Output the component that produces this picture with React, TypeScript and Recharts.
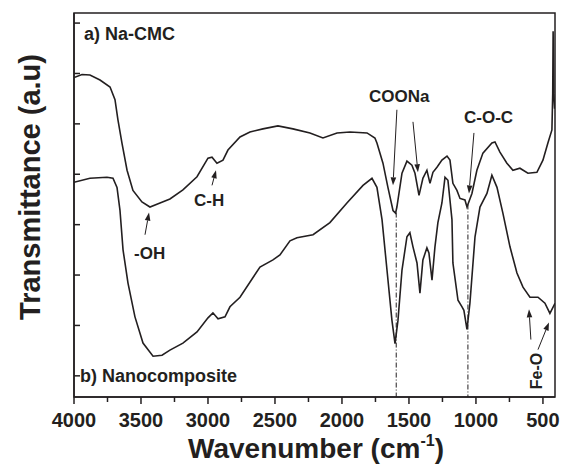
import React from 'react';
import { LineChart, Line, XAxis, YAxis, ReferenceLine, ReferenceArea } from 'recharts';

const INK = '#231f20';
const FONT = '"Liberation Sans", Arial, sans-serif';

// a) Na-CMC spectrum, wavenumber (cm-1) and transmittance (a.u)
const cmcWn = [
  4000, 3940, 3881, 3806, 3731, 3694, 3672, 3642, 3604, 3560, 3493, 3433, 3358, 3284, 3187, 3082,
  3000, 2970, 2933, 2888, 2851, 2761, 2687, 2590, 2478, 2366, 2239, 2142, 2037, 1940, 1813, 1754,
  1739, 1694, 1657, 1619, 1600, 1590, 1552, 1515, 1478, 1455, 1425, 1396, 1366, 1343, 1321, 1291,
  1254, 1216, 1194, 1172, 1142, 1119, 1082, 1067, 1030, 993, 948, 881, 858, 821, 769, 724, 672,
  612, 545, 500, 463, 433, 427, 424, 419, 413,
];
const cmcT = [
  31.6, 31.9, 31.85, 31.35, 30.65, 29.4, 27.4, 25.1, 22.4, 20.4, 19.25, 18.75, 19.15, 19.55, 20.45, 21.75,
  23.6, 23.7, 23.1, 23.4, 24.4, 25.7, 26.2, 26.5, 26.8, 26.5, 26.1, 25.6, 26.1, 26.2, 26.1, 25.6,
  25.1, 23.1, 20.7, 18.4, 18.15, 18.75, 22.1, 23.3, 22.9, 22.1, 19.9, 21.6, 22.4, 21.1, 22.2, 22.7,
  23.4, 23.8, 23.4, 21.1, 20.4, 19.6, 19.45, 18.75, 20.1, 22.4, 24.1, 25.1, 25.2, 24.2, 23.1, 22.4, 22.6,
  22.1, 22.2, 23.4, 25.1, 26.4, 30, 36.2, 30, 28.5,
];

// b) Nanocomposite spectrum
const nanoWn = [
  4000, 3881, 3754, 3709, 3679, 3657, 3634, 3597, 3545, 3485, 3410, 3343, 3284, 3187, 3082, 3000,
  2963, 2925, 2873, 2836, 2761, 2612, 2515, 2463, 2388, 2336, 2216, 2090, 1963, 1843, 1776, 1739,
  1701, 1664, 1627, 1604, 1582, 1552, 1515, 1493, 1470, 1440, 1418, 1396, 1366, 1351, 1328, 1306,
  1284, 1254, 1231, 1209, 1179, 1172, 1134, 1104, 1090, 1067, 1045, 1007, 970, 918, 881, 843, 799,
  746, 694, 649, 597, 537, 485, 448, 410,
];
const nanoT = [
  21.2, 21.6, 21.7, 21.6, 20.7, 18.45, 14.5, 11.2, 7.85, 5.25, 3.95, 4.05, 4.55, 5.25, 6.35, 7.75,
  8.25, 7.65, 7.85, 8.85, 9.8, 12.8, 13.5, 14.0, 15.4, 15.7, 16.0, 17.2, 19.15, 20.9, 21.6, 20.7,
  17.5, 12.5, 7.5, 5.2, 7.5, 12.5, 15.8, 16.2, 14.8, 13.2, 10.2, 13.5, 14.7, 14.2, 11.5, 14.8,
  17.2, 19.15, 21.7, 21.4, 17.5, 13.2, 9.5, 8.85, 8.5, 6.6, 9.2, 15.8, 18.75, 20.1, 21.9, 20.7, 18.15,
  14.8, 12.2, 10.8, 9.8, 9.8, 9.2, 8.2, 9.2,
];

const xTicks = [4000, 3750, 3500, 3250, 3000, 2750, 2500, 2250, 2000, 1750, 1500, 1250, 1000, 750, 500];
const yTicks = [2, 7, 12, 17, 22, 27, 32, 37];

// dash-dot guides: wavenumber, top of the guide
const guideWn = [1595, 1060];
const guideTop = [18.2, 19.0];

// annotation arrows: [from, tip] in wavenumber / transmittance
const arrows = [
  [[3470, 16.0], [3440, 18.2]],
  [[2970, 20.9], [2940, 22.4]],
  [[1590, 28.4], [1619, 20.9]],
  [[1470, 27.2], [1433, 22.2]],
  [[1015, 26.1], [1052, 20.1]],
  [[590, 5.6], [604, 8.6]],
  [[537, 4.6], [455, 7.3]],
];

const cmcData = cmcWn.map((wn, i) => ({ wn, t: cmcT[i] }));
const nanoData = nanoWn.map((wn, i) => ({ wn, t: nanoT[i] }));

const XTick = (props: any) => {
  const { x, y, payload } = props;
  const major = payload.value % 500 === 0;
  return (
    <g>
      <line x1={x} x2={x} y1={y} y2={y + (major ? 7 : 5)} stroke={INK} strokeWidth={1.5} />
      {major && (
        <text x={x} y={y + 30} textAnchor="middle" fill={INK} fontFamily={FONT} fontWeight="bold" fontSize={20}>
          {payload.value}
        </text>
      )}
    </g>
  );
};

const YTick = (props: any) => {
  const { x, y } = props;
  return <line x1={x} x2={x + 6} y1={y} y2={y} stroke={INK} strokeWidth={1.5} />;
};

const Arrow = (p: any) => {
  const { x1, y1, x2, y2 } = p;
  const ang = Math.atan2(y2 - y1, x2 - x1);
  const L = 8;
  const W = 2.8;
  const bx = x2 - L * Math.cos(ang);
  const by = y2 - L * Math.sin(ang);
  const pts = `${x2},${y2} ${bx + W * Math.sin(ang)},${by - W * Math.cos(ang)} ${bx - W * Math.sin(ang)},${by + W * Math.cos(ang)}`;
  return (
    <g>
      <line x1={x1} y1={y1} x2={bx} y2={by} stroke={INK} strokeWidth={1} />
      <polygon points={pts} fill={INK} />
    </g>
  );
};

const textStyle = { fontFamily: FONT, fontWeight: 'bold' as const, fill: INK };

export default function App() {
  return (
    <div style={{ position: 'absolute', left: 0, top: 0, width: 561, height: 470, background: '#fff' }}>
      <LineChart width={561} height={470} margin={{ top: 13, right: 6, bottom: 0, left: 0 }}>
        <XAxis
          type="number"
          dataKey="wn"
          domain={[410, 4000]}
          reversed
          allowDataOverflow
          ticks={xTicks}
          interval={0}
          tickLine={false}
          tickSize={0}
          tickMargin={0}
          tick={<XTick />}
          height={73}
          axisLine={{ stroke: INK, strokeWidth: 1.5 }}
        />
        <YAxis
          type="number"
          domain={[-0.1, 38]}
          allowDataOverflow
          ticks={yTicks}
          interval={0}
          tickLine={false}
          tickSize={0}
          tickMargin={0}
          tick={<YTick />}
          width={74}
          axisLine={{ stroke: INK, strokeWidth: 1.5 }}
        />
        <ReferenceArea x1={4000} x2={410} y1={-0.1} y2={38} fill="none" stroke={INK} strokeWidth={1.5} />
        {guideWn.map((wn, i) => (
          <ReferenceLine
            key={wn}
            segment={[{ x: wn, y: guideTop[i] }, { x: wn, y: -0.1 }]}
            stroke={INK}
            strokeWidth={1}
            strokeDasharray="5 2 1 2"
          />
        ))}
        <Line data={cmcData} dataKey="t" type="linear" stroke={INK} strokeWidth={1.6} dot={false} isAnimationActive={false} />
        <Line data={nanoData} dataKey="t" type="linear" stroke={INK} strokeWidth={1.6} dot={false} isAnimationActive={false} />
        {arrows.map((a, i) => (
          <ReferenceLine
            key={i}
            segment={[{ x: a[0][0], y: a[0][1] }, { x: a[1][0], y: a[1][1] }]}
            shape={<Arrow />}
          />
        ))}
      </LineChart>
      <svg width={561} height={470} style={{ position: 'absolute', left: 0, top: 0, pointerEvents: 'none' }}>
        <text x={84} y={40} fontSize={18} {...textStyle}>a) Na-CMC</text>
        <text x={80} y={382} fontSize={18} {...textStyle}>b) Nanocomposite</text>
        <text x={194} y={206} fontSize={17} {...textStyle}>C-H</text>
        <text x={134} y={259} fontSize={17} {...textStyle}>-OH</text>
        <text x={369} y={102} fontSize={17} {...textStyle}>COONa</text>
        <text x={464} y={123} fontSize={17} {...textStyle}>C-O-C</text>
        <text x={542} y={371} fontSize={16} textAnchor="middle" transform="rotate(-90 542 371)" {...textStyle}>Fe-O</text>
        <text x={40} y={187} fontSize={29} textAnchor="middle" transform="rotate(-90 40 187)" {...textStyle}>
          Transmittance (a.u)
        </text>
        <text x={316} y={458} fontSize={28} textAnchor="middle" {...textStyle}>
          Wavenumber (cm<tspan fontSize={16} dy={-12}>-1</tspan><tspan dy={12}>)</tspan>
        </text>
      </svg>
    </div>
  );
}
